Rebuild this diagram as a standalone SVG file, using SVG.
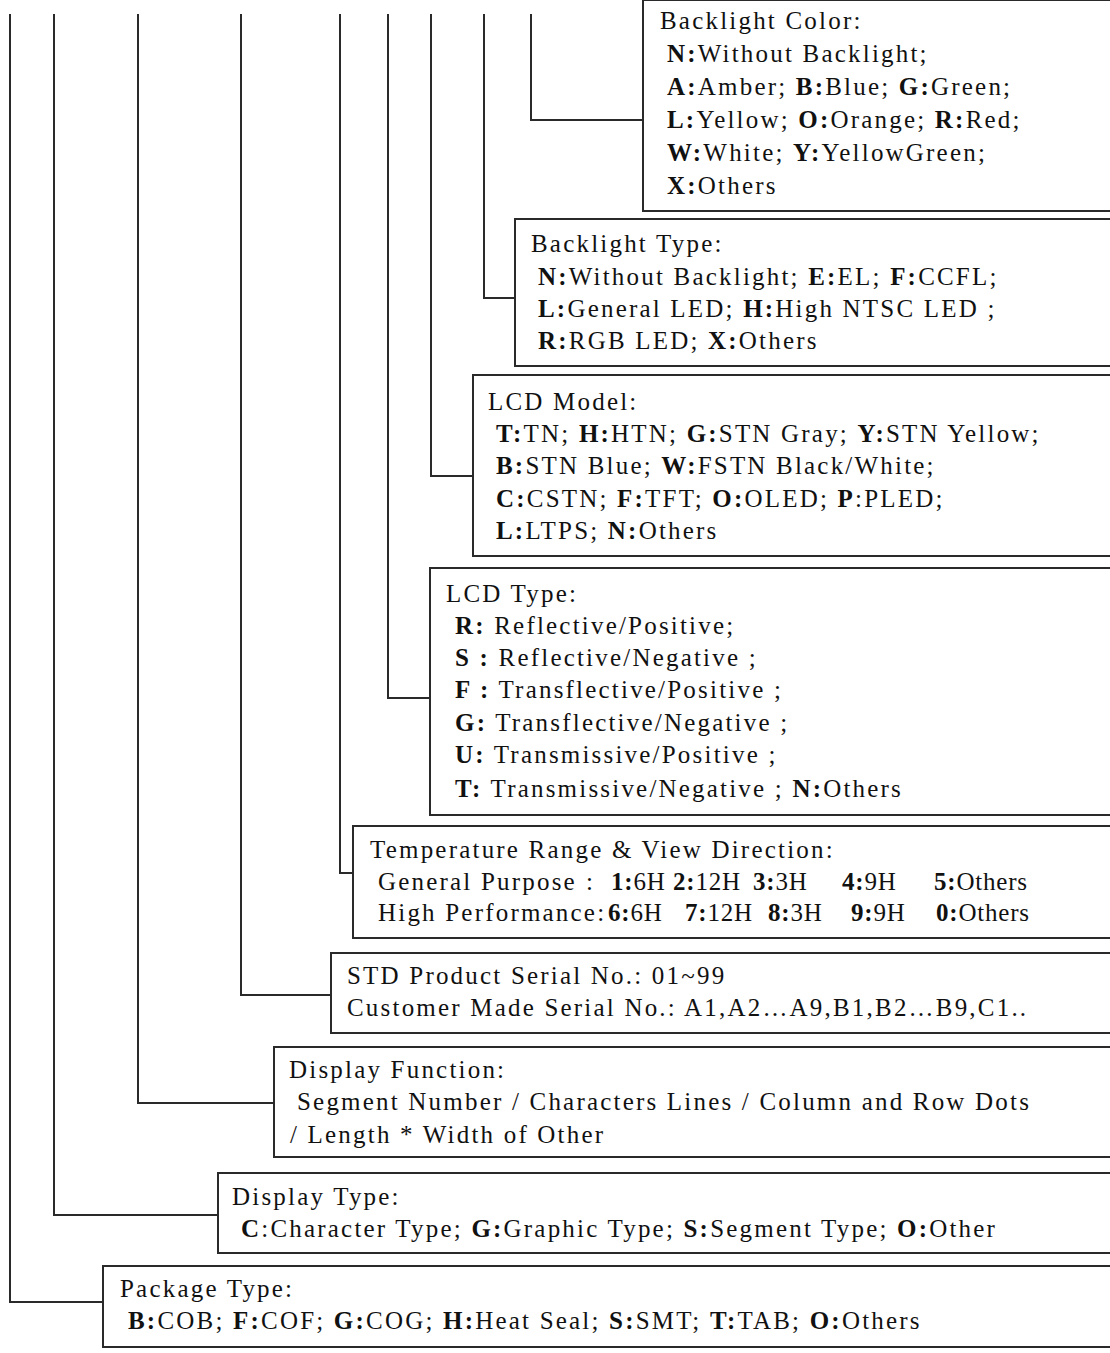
<svg xmlns="http://www.w3.org/2000/svg" width="1110" height="1353" viewBox="0 0 1110 1353">
<style>
.bg{fill:#fff}
.box{fill:#fff;stroke:#2a2a2a;stroke-width:2}
.ln{fill:none;stroke:#2a2a2a;stroke-width:2}
text{font-family:"Liberation Serif","Times New Roman",serif;font-size:25px;letter-spacing:2.2px;fill:#111}
.b{font-weight:bold}
.tight{letter-spacing:0.8px}
</style>
<rect class="bg" x="0" y="0" width="1110" height="1353"/>
<g id="connectors">
<polyline class="ln" points="531,14 531,120 643,120"/>
<polyline class="ln" points="484,14 484,298 515,298"/>
<polyline class="ln" points="431,14 431,476 473,476"/>
<polyline class="ln" points="388,14 388,698 430,698"/>
<polyline class="ln" points="340,14 340,873 353,873"/>
<polyline class="ln" points="241,14 241,995 331,995"/>
<polyline class="ln" points="138,14 138,1103 274,1103"/>
<polyline class="ln" points="54,14 54,1215 218,1215"/>
<polyline class="ln" points="10,14 10,1302 103,1302"/>
</g>
<g id="backlight-color">
<rect class="box" x="643" y="0" width="480" height="211"/>
<text x="660" y="29">Backlight Color:</text>
<text x="667" y="62"><tspan class="b">N:</tspan>Without Backlight;</text>
<text x="667" y="95"><tspan class="b">A:</tspan>Amber; <tspan class="b">B:</tspan>Blue; <tspan class="b">G:</tspan>Green;</text>
<text x="667" y="128"><tspan class="b">L:</tspan>Yellow; <tspan class="b">O:</tspan>Orange; <tspan class="b">R:</tspan>Red;</text>
<text x="667" y="161"><tspan class="b">W:</tspan>White; <tspan class="b">Y:</tspan>YellowGreen;</text>
<text x="667" y="194"><tspan class="b">X:</tspan>Others</text>
</g>
<g id="backlight-type">
<rect class="box" x="515" y="219" width="610" height="147"/>
<text x="531" y="252">Backlight Type:</text>
<text x="538" y="285"><tspan class="b">N:</tspan>Without Backlight; <tspan class="b">E:</tspan>EL; <tspan class="b">F:</tspan>CCFL;</text>
<text x="538" y="317"><tspan class="b">L:</tspan>General LED; <tspan class="b">H:</tspan>High NTSC LED ;</text>
<text x="538" y="349"><tspan class="b">R:</tspan>RGB LED; <tspan class="b">X:</tspan>Others</text>
</g>
<g id="lcd-model">
<rect class="box" x="473" y="375" width="650" height="181"/>
<text x="488" y="410">LCD Model:</text>
<text x="496" y="442"><tspan class="b">T:</tspan>TN; <tspan class="b">H:</tspan>HTN; <tspan class="b">G:</tspan>STN Gray; <tspan class="b">Y:</tspan>STN Yellow;</text>
<text x="496" y="474"><tspan class="b">B:</tspan>STN Blue; <tspan class="b">W:</tspan>FSTN Black/White;</text>
<text x="496" y="507"><tspan class="b">C:</tspan>CSTN; <tspan class="b">F:</tspan>TFT; <tspan class="b">O:</tspan>OLED; <tspan class="b">P</tspan>:PLED;</text>
<text x="496" y="539"><tspan class="b">L:</tspan>LTPS; <tspan class="b">N:</tspan>Others</text>
</g>
<g id="lcd-type">
<rect class="box" x="430" y="568" width="690" height="247"/>
<text x="446" y="602">LCD Type:</text>
<text x="455" y="634"><tspan class="b">R:</tspan> Reflective/Positive;</text>
<text x="455" y="666"><tspan class="b">S :</tspan> Reflective/Negative ;</text>
<text x="455" y="698"><tspan class="b">F :</tspan> Transflective/Positive ;</text>
<text x="455" y="731"><tspan class="b">G:</tspan> Transflective/Negative ;</text>
<text x="455" y="763"><tspan class="b">U:</tspan> Transmissive/Positive ;</text>
<text x="455" y="797"><tspan class="b">T:</tspan> Transmissive/Negative ; <tspan class="b">N:</tspan>Others</text>
</g>
<g id="temperature">
<rect class="box" x="353" y="826" width="770" height="112"/>
<text x="370" y="858">Temperature Range &amp; View Direction:</text>
<text x="378" y="890">General Purpose<tspan x="586">:</tspan><tspan class="tight"><tspan x="611" class="b">1:</tspan>6H<tspan x="673" class="b">2:</tspan>12H<tspan x="753" class="b">3:</tspan>3H<tspan x="842" class="b">4:</tspan>9H<tspan x="934" class="b">5:</tspan>Others</tspan></text>
<text x="378" y="921">High Performance:<tspan class="tight"><tspan x="608" class="b">6:</tspan>6H<tspan x="685" class="b">7:</tspan>12H<tspan x="768" class="b">8:</tspan>3H<tspan x="851" class="b">9:</tspan>9H<tspan x="936" class="b">0:</tspan>Others</tspan></text>
</g>
<g id="serial-no">
<rect class="box" x="331" y="953" width="790" height="80"/>
<text x="347" y="984">STD Product Serial No.: 01~99</text>
<text x="347" y="1016">Customer Made Serial No.: A1,A2…A9,B1,B2…B9,C1..</text>
</g>
<g id="display-function">
<rect class="box" x="274" y="1047" width="850" height="110"/>
<text x="289" y="1078">Display Function:</text>
<text x="297" y="1110">Segment Number / Characters Lines / Column and Row Dots</text>
<text x="290" y="1143">/ Length * Width of Other</text>
</g>
<g id="display-type">
<rect class="box" x="218" y="1173" width="905" height="80"/>
<text x="232" y="1205">Display Type:</text>
<text x="241" y="1237"><tspan class="b">C</tspan>:Character Type; <tspan class="b">G:</tspan>Graphic Type; <tspan class="b">S:</tspan>Segment Type; <tspan class="b">O:</tspan>Other</text>
</g>
<g id="package-type">
<rect class="box" x="103" y="1266" width="1020" height="81"/>
<text x="120" y="1297">Package Type:</text>
<text x="128" y="1329"><tspan class="b">B:</tspan>COB; <tspan class="b">F:</tspan>COF; <tspan class="b">G:</tspan>COG; <tspan class="b">H:</tspan>Heat Seal; <tspan class="b">S:</tspan>SMT; <tspan class="b">T:</tspan>TAB; <tspan class="b">O:</tspan>Others</text>
</g>
</svg>
